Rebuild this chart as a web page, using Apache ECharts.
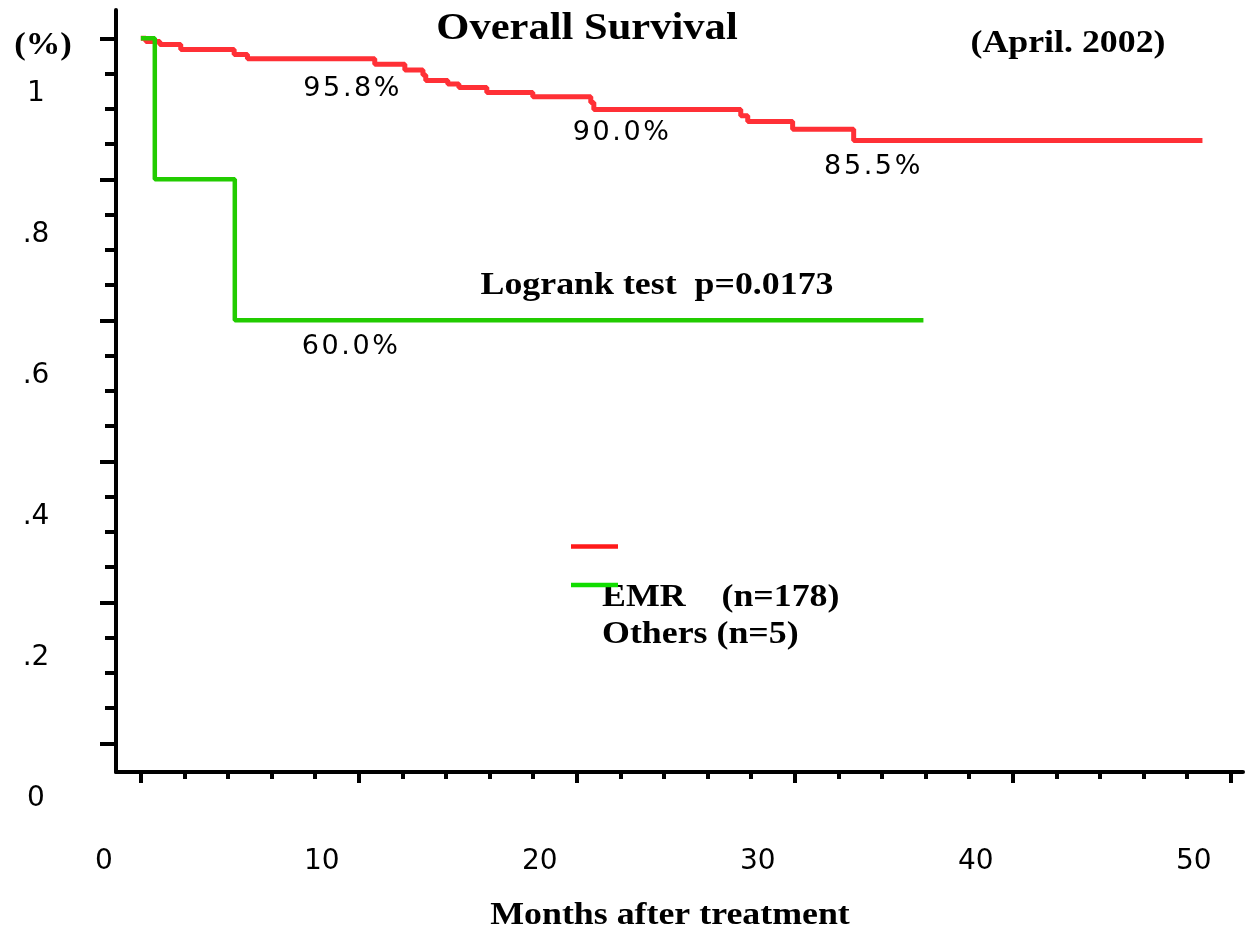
<!DOCTYPE html>
<html><head><meta charset="utf-8">
<script src="https://cdn.jsdelivr.net/npm/echarts@6/dist/echarts.min.js"></script>
<style>html,body{margin:0;padding:0;background:#fff}#c{width:1245px;height:935px}</style>
</head><body><div id="c"></div><script>
// ---- data ----
const emrTimes     = [0, 0.23, 0.87, 1.83, 4.28, 4.89, 10.73, 12.11, 12.94, 13.07, 14.08, 14.59, 15.87, 17.98, 20.64, 20.78, 27.52, 27.84, 29.90, 32.70, 48.70];
const emrSurvival  = [1.000, 0.9955, 0.991, 0.984, 0.977, 0.971, 0.963, 0.955, 0.948, 0.940, 0.935, 0.930, 0.923, 0.917, 0.909, 0.899, 0.890, 0.882, 0.871, 0.855, 0.855];
const othersTimes    = [0, 0.64, 4.31, 35.9];
const othersSurvival = [1.0, 0.8, 0.6, 0.6];
const xTickValues = [0, 10, 20, 30, 40, 50];
const xTickLabels = ['0', '10', '20', '30', '40', '50'];
const yTickValues = [0, 0.2, 0.4, 0.6, 0.8, 1];
const yTickLabels = ['0', '.2', '.4', '.6', '.8', '1'];
const annotationTexts = ['95.8%', '90.0%', '85.5%', '60.0%'];
const seriesNames = ['EMR    (n=178)', 'Others (n=5)'];

// ---- layout ----
const annotationCoords = [[9.66, 0.928], [22.02, 0.865], [33.55, 0.818], [9.59, 0.5615]];
const xMinorTicks = [];
for (let v = 0; v <= 50; v += 2) if (v % 10 !== 0) xMinorTicks.push(v);
const yMinorTicks = [];
for (let k = 0; k <= 20; k++) if (k % 4 !== 0) yMinorTicks.push(k / 20);

const chart = echarts.init(document.getElementById('c'), null, {renderer: 'canvas'});
const RED = '#ff3036', GREEN = '#22cc00';

function spaced(s) { return s.split('').map(ch => '{c|' + ch + '}').join(''); }
function serifText(text, x, y, align, size, sx) {
  return {
    type: 'text', x: x, y: y, scaleX: sx || 1.12, silent: true,
    style: {
      text: text, fill: '#000',
      font: 'bold ' + (size || 32) + 'px "Liberation Serif", "Times New Roman", serif',
      align: align, verticalAlign: 'middle', textAlign: align, textVerticalAlign: 'middle'
    }
  };
}

const option = {
  backgroundColor: '#fff',
  animation: false,
  grid: {left: 116, right: 2, top: 10, bottom: 163, containLabel: false},
  xAxis: [{
    type: 'value', min: -1.14, max: 50.56, position: 'bottom',
    axisLine: {show: true, onZero: false, lineStyle: {color: '#000', width: 4}},
    axisTick: {show: true, customValues: xTickValues, length: 11, lineStyle: {color: '#000', width: 4}},
    axisLabel: {
      show: true, customValues: xTickValues, margin: 90,
      formatter: v => xTickLabels[xTickValues.indexOf(Math.round(v))] || '',
      fontFamily: '"DejaVu Sans", sans-serif', fontSize: 28, color: '#000',
      align: 'center', verticalAlign: 'middle', padding: [0, 74, 0, 0]
    },
    splitLine: {show: false}
  }, {
    type: 'value', min: -1.14, max: 50.56, position: 'bottom',
    axisLine: {show: false, onZero: false},
    axisTick: {show: true, customValues: xMinorTicks, length: 7, lineStyle: {color: '#000', width: 4}},
    axisLabel: {show: false}, splitLine: {show: false}
  }],
  yAxis: [{
    type: 'value', min: -0.0407, max: 1.0401, position: 'left',
    axisLine: {show: true, onZero: false, lineStyle: {color: '#000', width: 4}},
    axisTick: {show: true, customValues: yTickValues, length: 16, lineStyle: {color: '#000', width: 4}},
    axisLabel: {
      show: true, customValues: yTickValues, margin: 80,
      formatter: v => { const i = yTickValues.findIndex(t => Math.abs(t - v) < 1e-6); return i >= 0 ? yTickLabels[i] : ''; },
      fontFamily: '"DejaVu Sans", sans-serif', fontSize: 28, color: '#000',
      align: 'center', verticalAlign: 'top', lineHeight: 110
    },
    splitLine: {show: false}
  }, {
    type: 'value', min: -0.0407, max: 1.0401, position: 'left',
    axisLine: {show: false, onZero: false},
    axisTick: {show: true, customValues: yMinorTicks, length: 11, lineStyle: {color: '#000', width: 4}},
    axisLabel: {show: false}, splitLine: {show: false}
  }],
  series: [{
    name: seriesNames[0], type: 'line', step: 'end', xAxisIndex: 0, yAxisIndex: 0,
    data: emrTimes.map((t, i) => [t, emrSurvival[i]]),
    showSymbol: false, symbol: 'none', silent: true,
    lineStyle: {color: RED, width: 5}, z: 3
  }, {
    name: seriesNames[1], type: 'line', step: 'end', xAxisIndex: 0, yAxisIndex: 0,
    data: othersTimes.map((t, i) => [t, othersSurvival[i]]),
    showSymbol: false, symbol: 'none', silent: true,
    lineStyle: {color: GREEN, width: 4.5}, z: 4
  }, {
    type: 'scatter', xAxisIndex: 0, yAxisIndex: 0, silent: true,
    symbolSize: 0, itemStyle: {color: '#000', opacity: 1},
    data: annotationTexts.map((t, i) => ({name: t, value: annotationCoords[i]})),
    label: {
      show: true, position: 'inside', color: '#000', opacity: 1,
      formatter: p => spaced(p.name),
      rich: {c: {fontFamily: '"DejaVu Sans", sans-serif', fontSize: 27, color: '#000', padding: [0, 1.3, 0, 1.3]}}
    }, z: 5
  }],
  graphic: [
    serifText('Overall Survival', 587, 29, 'center', 38),
    serifText('(April. 2002)', 1068, 44, 'center', 32),
    serifText('(%)', 43, 46, 'center', 32, 1.08),
    serifText('Logrank test  p=0.0173', 657, 286, 'center', 32),
    serifText(seriesNames[0], 602, 598, 'left', 32),
    serifText(seriesNames[1], 602, 635, 'left', 32),
    serifText('Months after treatment', 670, 916, 'center', 32),
    {type: 'line', silent: true, shape: {x1: 571, y1: 546.5, x2: 618, y2: 546.5}, style: {stroke: '#ff1a1a', lineWidth: 4.5}},
    {type: 'line', silent: true, shape: {x1: 571, y1: 585, x2: 618, y2: 585}, style: {stroke: '#11dd00', lineWidth: 4.5}}
  ]
};
chart.setOption(option);
</script></body></html>
